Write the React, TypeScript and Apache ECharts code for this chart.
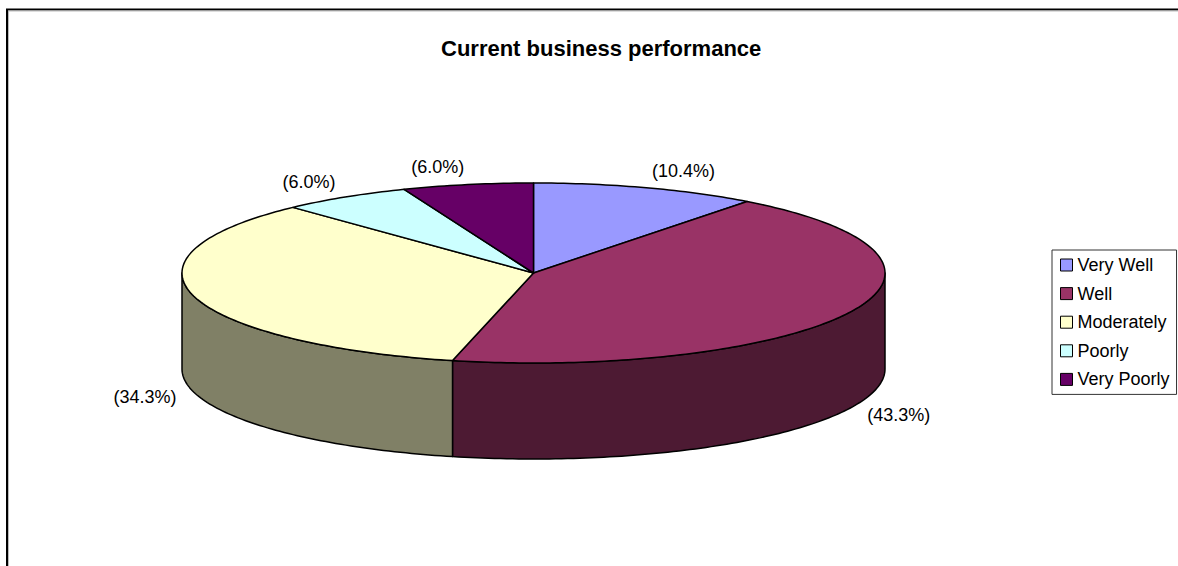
import React, { useEffect, useRef } from "react";
import * as echarts from "echarts";

const categories = ["Very Well", "Well", "Moderately", "Poorly", "Very Poorly"];
const values = [10.4, 43.3, 34.3, 6.0, 6.0];
const topColors = ["#9999FF", "#993366", "#FFFFCC", "#CCFFFF", "#660066"];
const sideColors = ["#4D4D80", "#4D1A33", "#808066", "#668080", "#330033"];
const titleText = "Current business performance";

const FONT = "'Liberation Sans', Arial, Helvetica, sans-serif";

// projection of the tilted pie
const CX = 533.5;
const CY = 273;
const RX = 351.5;
const RY = 90;
const DEPTH = 96;

function pt(theta: number, dy = 0): number[] {
  return [CX + RX * Math.sin(theta), CY - RY * Math.cos(theta) + dy];
}

function arc(a: number, b: number, dy = 0): number[][] {
  const n = Math.max(2, Math.ceil(Math.abs(b - a) / (Math.PI / 180)));
  const out: number[][] = [];
  for (let k = 0; k <= n; k++) out.push(pt(a + ((b - a) * k) / n, dy));
  return out;
}

const total = values.reduce((s, v) => s + v, 0);
const starts: number[] = [];
{
  let acc = 0;
  for (const v of values) {
    starts.push(acc);
    acc += v;
  }
}

function makeRender(i: number) {
  return (_params: any, api: any) => {
    const v = api.value(0);
    const a0 = (starts[i] / total) * Math.PI * 2;
    const a1 = ((starts[i] + v) / total) * Math.PI * 2;
    const children: any[] = [];
    const lo = Math.max(a0, Math.PI / 2);
    const hi = Math.min(a1, (Math.PI * 3) / 2);
    if (lo < hi) {
      const pts = arc(lo, hi).concat(arc(hi, lo, DEPTH));
      children.push({
        type: "polygon",
        shape: { points: pts },
        style: { fill: sideColors[i], stroke: "#000", lineWidth: 1.5, lineJoin: "round" },
      });
    }
    const topPts = [[CX, CY]].concat(arc(a0, a1));
    children.push({
      type: "polygon",
      shape: { points: topPts },
      style: { fill: topColors[i], stroke: "#000", lineWidth: 1.5, lineJoin: "round" },
    });
    const mid = (a0 + a1) / 2;
    const s = Math.sin(mid);
    const c = Math.cos(mid);
    const lx = CX + (RX + 18) * s;
    const ly = CY - (RY + 18) * c + (c < 0 ? DEPTH : 0);
    children.push({
      type: "text",
      x: lx,
      y: ly,
      style: {
        text: "(" + ((v / total) * 100).toFixed(1) + "%)",
        align: s >= 0 ? "left" : "right",
        verticalAlign: "middle",
        fontSize: 18,
        fontFamily: FONT,
        fill: "#000",
      },
    });
    return { type: "group", children };
  };
}

export default function App() {
  const ref = useRef<HTMLDivElement>(null);
  useEffect(() => {
    if (!ref.current) return;
    const chart = echarts.init(ref.current, null, { renderer: "svg" });
    chart.setOption({
      animation: false,
      backgroundColor: "#fff",
      title: {
        text: titleText,
        left: 441,
        top: 37,
        padding: 0,
        textStyle: { fontSize: 22, fontWeight: "bold", fontFamily: FONT, color: "#000" },
      },
      legend: {
        orient: "vertical",
        left: 1052,
        top: 250,
        data: categories,
        selectedMode: false,
        backgroundColor: "#fff",
        borderColor: "#333",
        borderWidth: 1,
        padding: [5, 7, 5, 8],
        itemWidth: 12,
        itemHeight: 12,
        itemGap: 8.6,
        icon: "rect",
        itemStyle: { borderColor: "#000", borderWidth: 1 },
        textStyle: { fontSize: 18, fontFamily: FONT, color: "#000", lineHeight: 20 },
      },
      graphic: [
        {
          type: "rect",
          shape: { x: 7, y: 9.5, width: 1300, height: 700 },
          style: { fill: "none", stroke: "#000", lineWidth: 2 },
          silent: true,
        },
        {
          type: "rect",
          shape: { x: 8.5, y: 11, width: 1300, height: 700 },
          style: { fill: "none", stroke: "#bbb", lineWidth: 1 },
          silent: true,
        },
      ],
      series: categories.map((name, i) => ({
        type: "custom",
        name,
        coordinateSystem: "none",
        silent: true,
        itemStyle: { color: topColors[i] },
        data: [[values[i]]],
        renderItem: makeRender(i),
      })),
    });
    return () => chart.dispose();
  }, []);
  return (
    <div
      ref={ref}
      style={{ position: "absolute", left: 0, top: 0, width: 1178, height: 566, background: "#fff" }}
    />
  );
}
